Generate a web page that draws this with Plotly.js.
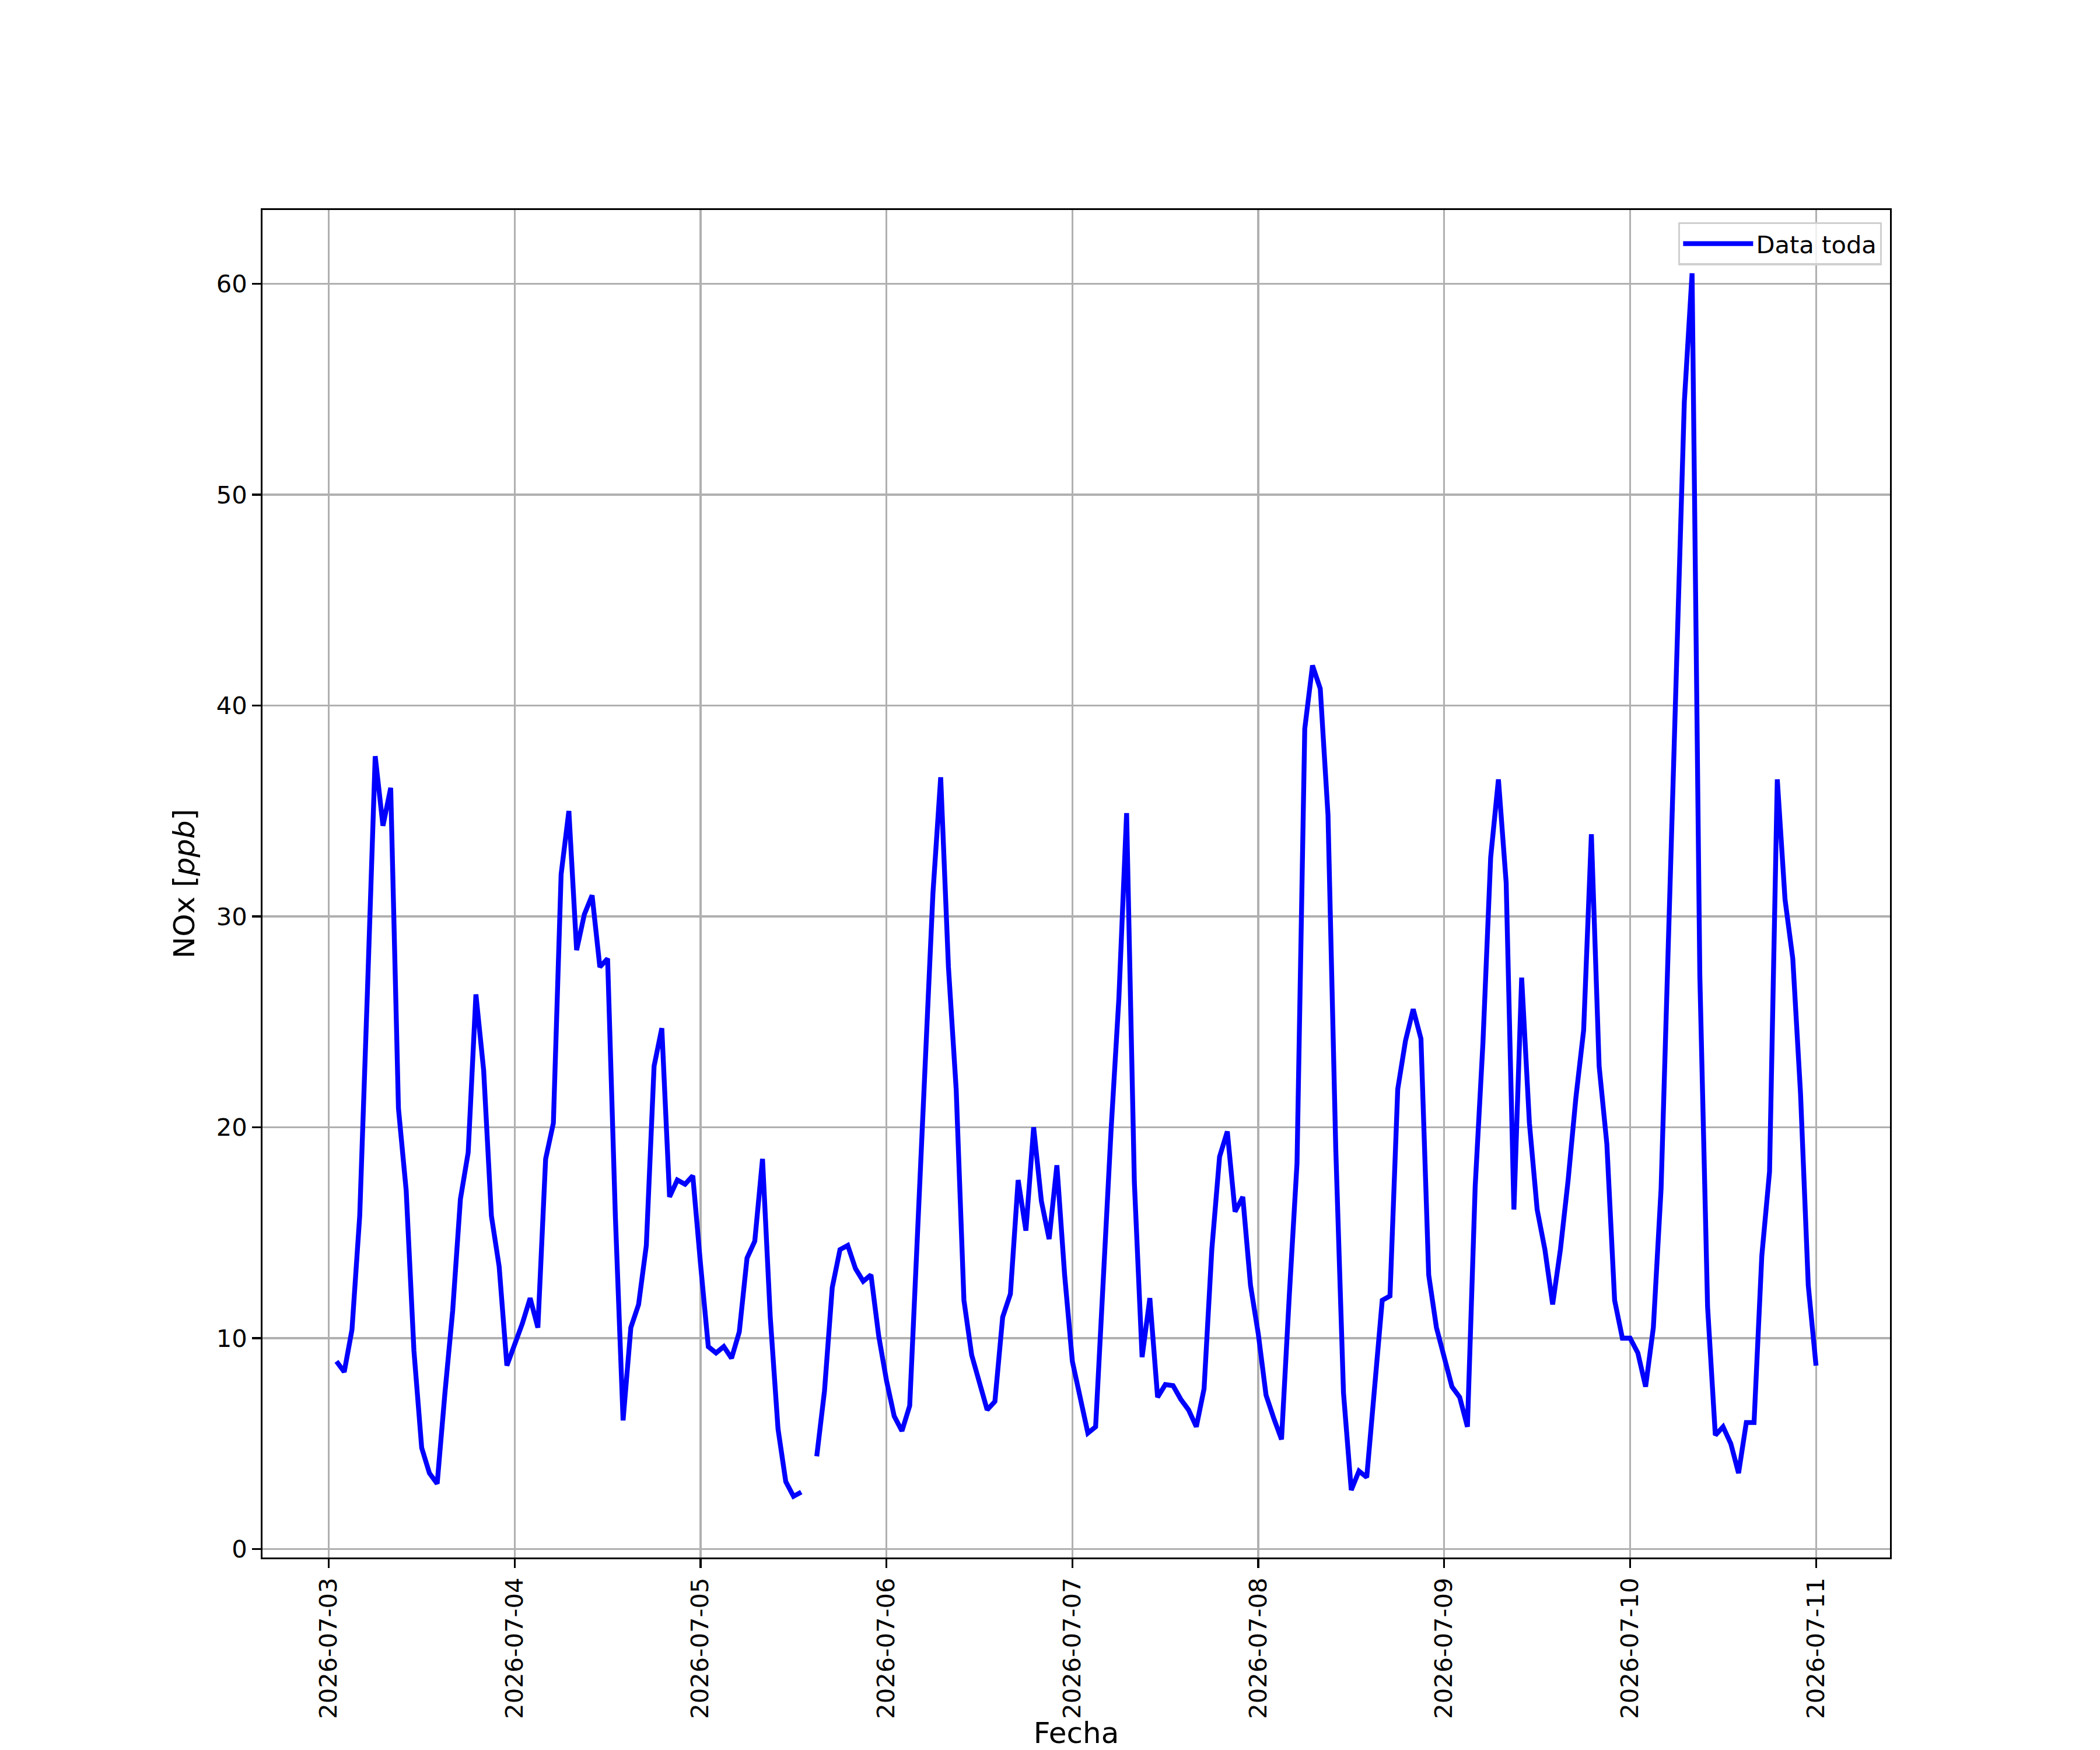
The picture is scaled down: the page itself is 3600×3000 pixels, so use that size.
<!DOCTYPE html>
<html>
<head>
<meta charset="utf-8">
<script src="https://cdn.plot.ly/plotly-3.0.1.min.js"></script>
<style>html,body{margin:0;padding:0;background:#fff;}</style>
</head>
<body>
<div id="chart" style="width:3600px;height:3000px;"></div>
<script>
// Hourly NOx values [ppb], one array per day (first hour given in dayFirstHour)
const dayLabels = ['2026-07-03','2026-07-04','2026-07-05','2026-07-06','2026-07-07','2026-07-08','2026-07-09','2026-07-10','2026-07-11'];
const dayFirstHour = [1,0,0,0,0,0,0,0,0];

const nox0703 = [8.9, 8.4, 10.4, 15.8, 26.5, 37.6, 34.3, 36.1, 20.9, 17.0, 9.4, 4.8, 3.6, 3.1, 7.4, 11.3, 16.6, 18.8, 26.3, 22.7, 15.8, 13.4, 8.7];
const nox0704 = [9.7, 10.7, 11.9, 10.5, 18.5, 20.2, 32.0, 35.0, 28.4, 30.1, 31.0, 27.6, 28.0, 15.8, 6.1, 10.5, 11.6, 14.4, 22.9, 24.7, 16.7, 17.5, 17.3, 17.7];
const nox0705 = [13.5, 9.6, 9.3, 9.6, 9.05, 10.3, 13.8, 14.6, 18.5, 11.0, 5.7, 3.2, 2.5, 2.7, null, 4.4, 7.5, 12.4, 14.2, 14.4, 13.3, 12.7, 13.0, 10.1];
const nox0706 = [8.0, 6.3, 5.6, 6.8, 14.7, 23.0, 31.1, 36.6, 27.6, 21.8, 11.8, 9.2, 7.8, 6.6, 7.0, 11.0, 12.1, 17.5, 15.1, 20.0, 16.5, 14.7, 18.2, 13.0];
const nox0707 = [8.9, 7.2, 5.5, 5.8, 13.2, 19.9, 26.1, 34.9, 17.4, 9.1, 11.9, 7.2, 7.8, 7.75, 7.1, 6.6, 5.8, 7.6, 14.2, 18.6, 19.8, 16.0, 16.7, 12.5];
const nox0708 = [10.2, 7.3, 6.2, 5.2, 12.0, 18.3, 38.9, 41.9, 40.8, 34.8, 19.0, 7.4, 2.8, 3.7, 3.4, 7.4, 11.8, 12.0, 21.8, 24.1, 25.6, 24.2, 13.0, 10.5];
const nox0709 = [9.0, 7.7, 7.2, 5.8, 17.2, 24.0, 32.8, 36.5, 31.6, 16.1, 27.1, 20.2, 16.1, 14.2, 11.6, 14.2, 17.5, 21.4, 24.6, 33.9, 22.9, 19.2, 11.8, 10.0];
const nox0710 = [10.0, 9.3, 7.7, 10.5, 17.1, 29.0, 41.0, 54.4, 60.5, 27.2, 11.5, 5.4, 5.8, 5.0, 3.6, 6.0, 6.0, 13.9, 17.9, 36.5, 30.8, 28.0, 21.6, 12.5];
const nox0711 = [8.7];

const dayValues = [nox0703, nox0704, nox0705, nox0706, nox0707, nox0708, nox0709, nox0710, nox0711];

const yTicks = [0, 10, 20, 30, 40, 50, 60];

const xs = [], ys = [];
dayValues.forEach((arr, d) => {
  arr.forEach((v, i) => {
    const h = dayFirstHour[d] + i;
    xs.push(dayLabels[d] + ' ' + String(h).padStart(2, '0') + ':00:00');
    ys.push(v);
  });
});

const PT = 300 / 72;
const trace = {
  x: xs, y: ys, type: 'scatter', mode: 'lines', name: 'Data toda',
  line: {color: '#0000ff', width: 2 * PT},
  connectgaps: false
};

const axisCommon = {
  showline: true, mirror: true, linecolor: '#000', linewidth: 0.8 * PT,
  ticks: 'outside', ticklen: 3.5 * PT, tickwidth: 0.8 * PT, tickcolor: '#000',
  showgrid: true, gridcolor: '#b0b0b0', gridwidth: 0.8 * PT,
  zeroline: false,
  tickfont: {family: 'DejaVu Sans', size: 10 * PT, color: '#000'}
};

const layout = {
  width: 3600, height: 3000,
  margin: {l: 450, r: 360, t: 360, b: 330, pad: 0},
  paper_bgcolor: '#fff', plot_bgcolor: '#fff',
  font: {family: 'DejaVu Sans', color: '#000'},
  showlegend: true,
  legend: {
    x: 0.995, y: 0.991, xanchor: 'right', yanchor: 'top',
    itemwidth: 120,
    bgcolor: 'rgba(255,255,255,0.8)', bordercolor: '#d0d0d0', borderwidth: 0.8 * PT,
    font: {family: 'DejaVu Sans', size: 10 * PT, color: '#000'}
  },
  xaxis: Object.assign({}, axisCommon, {
    type: 'date',
    range: ['2026-07-02 15:27:00', '2026-07-11 09:33:00'],
    tickmode: 'array',
    tickvals: dayLabels.map(d => d + ' 00:00:00'),
    ticktext: dayLabels,
    tickangle: -90,
    title: {text: 'Fecha', font: {family: 'DejaVu Sans', size: 12 * PT, color: '#000'}, standoff: 14}
  }),
  yaxis: Object.assign({}, axisCommon, {
    range: [-0.4, 63.5],
    tickmode: 'array',
    tickvals: yTicks,
    ticktext: yTicks.map(String),
    title: {text: 'NOx [<i>ppb</i>]', font: {family: 'DejaVu Sans', size: 12 * PT, color: '#000'}, standoff: 22}
  })
};

Plotly.newPlot('chart', [trace], layout, {displayModeBar: false, staticPlot: true});
</script>
</body>
</html>
